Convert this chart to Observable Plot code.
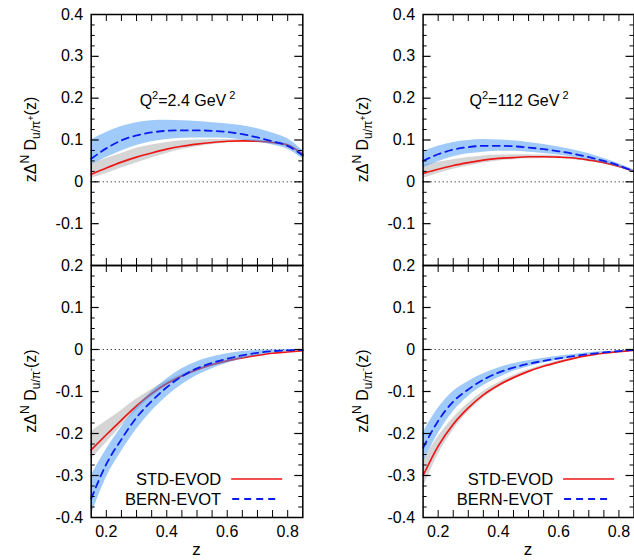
<!DOCTYPE html>
<html><head><meta charset="utf-8">
<script src="https://cdn.jsdelivr.net/npm/d3@7"></script>
<script src="https://cdn.jsdelivr.net/npm/@observablehq/plot@0.6"></script>
<style>
body{margin:0;background:#fff;}
#wrap{position:relative;width:634px;height:560px;overflow:hidden;font-family:"Liberation Sans",Arial,Helvetica,sans-serif;}
#wrap svg{position:absolute;overflow:visible;}
</style></head><body><div id="wrap"></div>
<script>
// ---- data ----
const zGrid = [0.15,0.20,0.25,0.30,0.35,0.40,0.45,0.50,0.55,0.60,0.65,0.70,0.75,0.80,0.85];

// Q^2 = 2.4 GeV^2, u -> pi+
const tlStd    = [0.018,0.033,0.047,0.059,0.069,0.078,0.085,0.090,0.094,0.097,0.098,0.097,0.094,0.088,0.066];
const tlStdLo  = [0.008,0.020,0.033,0.045,0.057,0.068,0.077,0.084,0.089,0.093,0.095,0.094,0.090,0.083,0.060];
const tlStdHi  = [0.042,0.056,0.068,0.080,0.088,0.094,0.098,0.100,0.101,0.101,0.101,0.100,0.097,0.091,0.070];
const tlBern   = [0.055,0.080,0.099,0.111,0.118,0.122,0.123,0.123,0.122,0.119,0.114,0.106,0.097,0.086,0.063];
const tlBernLo = [0.040,0.058,0.074,0.087,0.096,0.101,0.104,0.105,0.105,0.104,0.100,0.095,0.088,0.078,0.055];
const tlBernHi = [0.100,0.118,0.132,0.141,0.146,0.147,0.146,0.144,0.141,0.138,0.134,0.127,0.117,0.103,0.075];

// Q^2 = 112 GeV^2, u -> pi+
const trStd    = [0.020,0.030,0.039,0.046,0.052,0.056,0.058,0.060,0.060,0.059,0.057,0.052,0.046,0.037,0.025];
const trStdLo  = [0.008,0.020,0.030,0.038,0.045,0.050,0.053,0.055,0.056,0.055,0.053,0.049,0.043,0.034,0.023];
const trStdHi  = [0.040,0.047,0.053,0.058,0.062,0.064,0.065,0.065,0.064,0.062,0.059,0.054,0.048,0.039,0.027];
const trBern   = [0.050,0.066,0.077,0.083,0.086,0.086,0.085,0.082,0.078,0.073,0.067,0.059,0.050,0.039,0.025];
const trBernLo = [0.033,0.048,0.060,0.067,0.071,0.073,0.073,0.071,0.068,0.064,0.059,0.053,0.045,0.035,0.022];
const trBernHi = [0.072,0.085,0.094,0.099,0.101,0.100,0.098,0.094,0.089,0.083,0.076,0.067,0.056,0.043,0.028];

// Q^2 = 2.4 GeV^2, u -> pi-
const blStd    = [-0.239,-0.203,-0.168,-0.134,-0.105,-0.081,-0.063,-0.048,-0.036,-0.027,-0.020,-0.014,-0.009,-0.006,-0.003];
const blStdLo  = [-0.262,-0.222,-0.183,-0.145,-0.113,-0.087,-0.067,-0.051,-0.038,-0.029,-0.021,-0.015,-0.010,-0.006,-0.003];
const blStdHi  = [-0.195,-0.170,-0.145,-0.118,-0.095,-0.075,-0.059,-0.045,-0.034,-0.025,-0.018,-0.013,-0.008,-0.005,-0.002];
const blBern   = [-0.355,-0.273,-0.214,-0.162,-0.123,-0.090,-0.064,-0.045,-0.032,-0.022,-0.014,-0.008,-0.004,-0.002,-0.001];
const blBernLo = [-0.395,-0.305,-0.243,-0.190,-0.147,-0.112,-0.084,-0.062,-0.046,-0.033,-0.022,-0.014,-0.008,-0.004,-0.002];
const blBernHi = [-0.300,-0.238,-0.185,-0.138,-0.100,-0.070,-0.046,-0.029,-0.018,-0.010,-0.005,-0.002,-0.001,0.000,0.000];

// Q^2 = 112 GeV^2, u -> pi-
const brStd    = [-0.300,-0.230,-0.178,-0.139,-0.108,-0.085,-0.067,-0.052,-0.040,-0.030,-0.021,-0.014,-0.009,-0.005,-0.002];
const brStdLo  = [-0.330,-0.250,-0.192,-0.149,-0.116,-0.091,-0.071,-0.055,-0.042,-0.031,-0.022,-0.015,-0.009,-0.005,-0.002];
const brStdHi  = [-0.265,-0.208,-0.163,-0.128,-0.100,-0.079,-0.062,-0.048,-0.037,-0.027,-0.019,-0.013,-0.008,-0.004,-0.001];
const brBern   = [-0.234,-0.170,-0.124,-0.095,-0.072,-0.055,-0.043,-0.034,-0.027,-0.021,-0.016,-0.011,-0.007,-0.004,-0.001];
const brBernLo = [-0.270,-0.200,-0.148,-0.112,-0.086,-0.067,-0.052,-0.041,-0.032,-0.025,-0.019,-0.013,-0.008,-0.005,-0.002];
const brBernHi = [-0.198,-0.140,-0.100,-0.076,-0.058,-0.044,-0.034,-0.027,-0.021,-0.016,-0.012,-0.008,-0.005,-0.003,-0.001];

const topYTickLabels = [-0.1,0,0.1,0.2,0.3,0.4];
const botYTickLabels = [-0.4,-0.3,-0.2,-0.1,0,0.1,0.2];
const xTickLabels = [0.2,0.4,0.6,0.8];
const seriesNames = ["STD-EVOD","BERN-EVOT"];
const qLabels = ["2.4","112"];

// ---- drawing ----
const FONT = '"Liberation Sans", Arial, Helvetica, sans-serif';
const RED = "#ee1515", BLUE = "#0b1cf0";
const wrap = document.getElementById("wrap");

function rows(std,lo,hi,b,blo,bhi){
  return zGrid.map((z,i)=>({z,std:std[i],stdLo:lo[i],stdHi:hi[i],bern:b[i],bernLo:blo[i],bernHi:bhi[i]}));
}
const yFmt = d => d===0 ? "0" : d.toFixed(1);

function panel(o){
  const data = rows(...o.series);
  const pw = o.W - o.ML - o.MR, ph = o.H - o.MT - o.MB;
  const yMinor = d3.range(0,25).map(i=>o.yDomain[0]+i*0.025).filter(v=>v>o.yDomain[0]+1e-9 && v<o.yDomain[1]-1e-9);
  const yMajor = yMinor.filter(v=>Math.abs(Math.round(v*10)-v*10)<1e-6);
  const yMin2 = yMinor.filter(v=>!yMajor.includes(v));
  const xT = d3.range(1,14).map(i=>0.15+i*0.05);
  const marks = [
    Plot.areaY(data,{x:"z",y1:"stdLo",y2:"stdHi",fill:"#d5d5d5",curve:"monotone-x"}),
    Plot.ruleY([0],{stroke:"#333",strokeWidth:1,strokeDasharray:"1.2,2.8"}),
    Plot.line(data,{x:"z",y:"std",stroke:RED,strokeWidth:1.7,curve:"monotone-x"}),
    Plot.areaY(data,{x:"z",y1:"bernLo",y2:"bernHi",fill:"rgb(64,150,246)",fillOpacity:0.5,curve:"monotone-x"}),
    Plot.line(data,{x:"z",y:"bern",stroke:BLUE,strokeWidth:1.8,strokeDasharray:"7,5",curve:"monotone-x"}),
    Plot.tickY(yMajor,{y:d=>d,insetRight:pw-8,strokeWidth:1.2}),
    Plot.tickY(yMajor,{y:d=>d,insetLeft:pw-8,strokeWidth:1.2}),
    Plot.tickY(yMin2,{y:d=>d,insetRight:pw-4,strokeWidth:1}),
    Plot.tickY(yMin2,{y:d=>d,insetLeft:pw-4,strokeWidth:1}),
    Plot.tickX(xT,{x:d=>d,insetBottom:ph-7,strokeWidth:1}),
    Plot.tickX(xT,{x:d=>d,insetTop:ph-7,strokeWidth:1}),
    Plot.frame({stroke:"#000",strokeWidth:1.5}),
    Plot.axisY(o.yLabels,{tickSize:0,tickPadding:8,tickFormat:yFmt,fontSize:16,label:null})
  ];
  if(o.showX) marks.push(Plot.axisX(xTickLabels,{tickSize:0,tickPadding:8,tickFormat:d=>d.toFixed(1),fontSize:16,label:null}));
  const svg = Plot.plot({
    width:o.W,height:o.H,marginLeft:o.ML,marginRight:o.MR,marginTop:o.MT,marginBottom:o.MB,
    x:{domain:[0.15,0.85],axis:null,label:null},
    y:{domain:o.yDomain,axis:null,label:null},
    style:{fontFamily:FONT,fontSize:"16px",color:"#000",background:"transparent",overflow:"visible"},
    marks
  });
  svg.style.left = o.left+"px"; svg.style.top = o.top+"px";
  wrap.appendChild(svg);
  const s = d3.select(svg);
  // y label
  const cy = o.MT + ph/2;
  const t = s.append("text").attr("transform",`translate(${o.ML-55},${cy}) rotate(-90)`)
    .attr("text-anchor","middle").attr("font-size",16).attr("fill","#000").attr("font-family",FONT);
  t.append("tspan").text("zΔ");
  t.append("tspan").attr("font-size",12).attr("dy",-7).text("N");
  t.append("tspan").attr("font-size",16).attr("dy",7).text(" D");
  t.append("tspan").attr("font-size",12).attr("dy",4).text("u/π");
  t.append("tspan").attr("font-size",9).attr("dy",-6).text(o.sign);
  t.append("tspan").attr("font-size",16).attr("dy",2).text("(z)");
  if(o.q){
    const a = s.append("text").attr("x",o.ML+pw/2-9).attr("y",o.MT+92).attr("text-anchor","middle")
      .attr("font-size",16).attr("font-family",FONT).attr("fill","#000");
    a.append("tspan").text("Q");
    a.append("tspan").attr("font-size",11).attr("dy",-7).text("2");
    a.append("tspan").attr("font-size",16).attr("dy",7).text("="+o.q+" GeV");
    a.append("tspan").attr("font-size",11).attr("dy",-7).attr("dx",3).text("2");
  }
  if(o.showX){
    s.append("text").attr("x",o.ML+pw/2).attr("y",o.MT+ph+38).attr("text-anchor","middle")
      .attr("font-size",17).attr("font-family",FONT).text("z");
    // legend
    const lx = o.ML+130.5, ly = o.MT+214;
    s.append("text").attr("x",lx).attr("y",ly+6).attr("text-anchor","end").attr("font-size",16.5).attr("font-family",FONT).text(seriesNames[0]);
    s.append("line").attr("x1",lx+10).attr("x2",lx+61).attr("y1",ly).attr("y2",ly).attr("stroke",RED).attr("stroke-width",1.7);
    s.append("text").attr("x",lx).attr("y",ly+26).attr("text-anchor","end").attr("font-size",16.5).attr("font-family",FONT).text(seriesNames[1]);
    s.append("line").attr("x1",lx+11).attr("x2",lx+59).attr("y1",ly+20).attr("y2",ly+20).attr("stroke",BLUE).attr("stroke-width",1.8).attr("stroke-dasharray","7,5");
  }
}

const colL = {left:0,W:310,ML:90.7,MR:7.7};
const colR = {left:330,W:310,ML:92.6,MR:6.5};
const rowT = {top:0,H:275,MT:14,MB:10,yDomain:[-0.2,0.4],yLabels:topYTickLabels,showX:false,sign:"+"};
const rowB = {top:255,H:305,MT:10,MB:43,yDomain:[-0.4,0.2],yLabels:botYTickLabels,showX:true,sign:"-"};

panel({...colL,...rowT,q:qLabels[0],series:[tlStd,tlStdLo,tlStdHi,tlBern,tlBernLo,tlBernHi]});
panel({...colR,...rowT,q:qLabels[1],series:[trStd,trStdLo,trStdHi,trBern,trBernLo,trBernHi]});
panel({...colL,...rowB,series:[blStd,blStdLo,blStdHi,blBern,blBernLo,blBernHi]});
panel({...colR,...rowB,series:[brStd,brStdLo,brStdHi,brBern,brBernLo,brBernHi]});
</script></body></html>
